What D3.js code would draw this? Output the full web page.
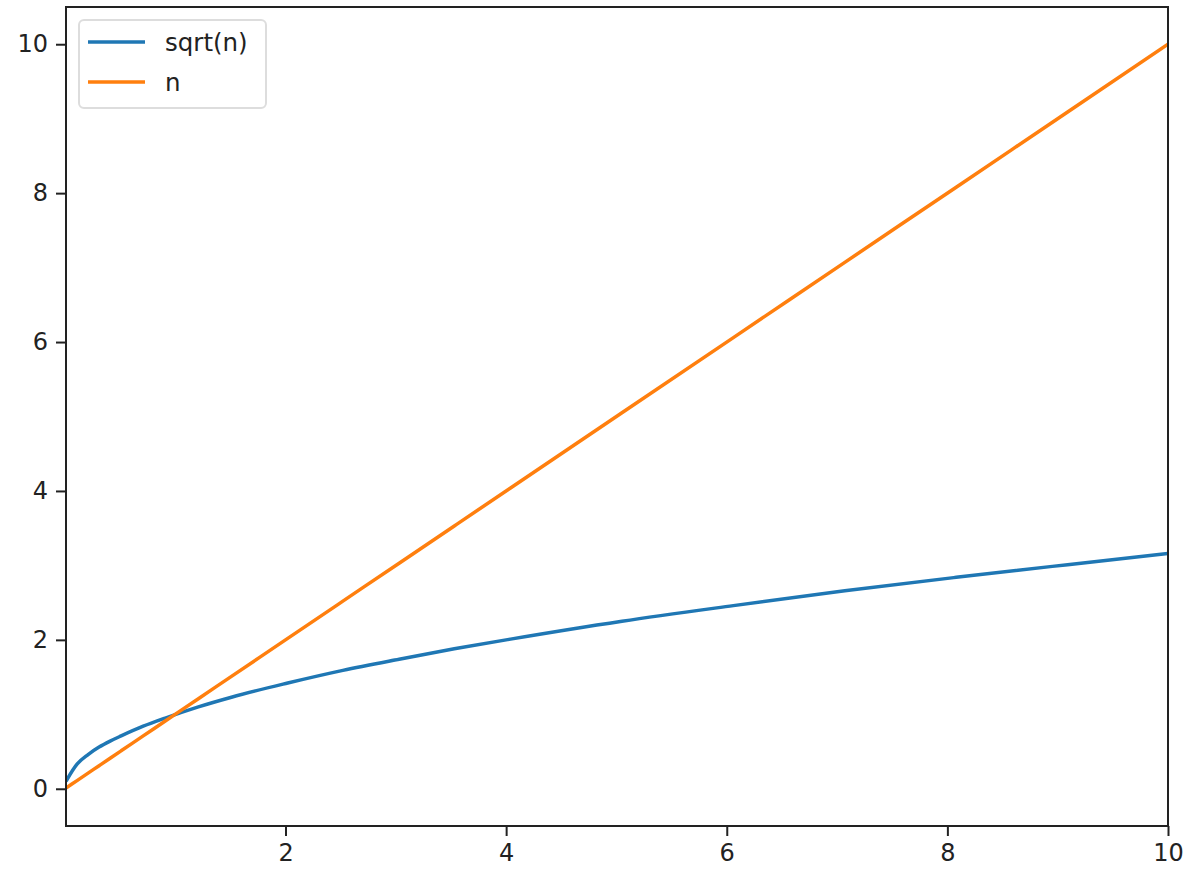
<!DOCTYPE html>
<html>
<head>
<meta charset="utf-8">
<script src="https://cdn.jsdelivr.net/npm/d3@7"></script>
<style>
  body { margin: 0; background: #fff; }
  svg text { font-family: "DejaVu Sans", sans-serif; fill: #222; }
</style>
</head>
<body>
<div id="Chart"></div>
<script>
// values
var nValues    = [0.01, 0.11, 0.21, 0.31, 0.41, 0.51, 0.71, 0.91, 1.21, 1.51, 2.02, 2.52, 3.03, 3.53, 4.04, 5.05, 6.06, 7.07, 8.08, 9.09, 10];
var sqrtValues = [0.10, 0.33, 0.46, 0.56, 0.64, 0.71, 0.84, 0.95, 1.10, 1.23, 1.42, 1.59, 1.74, 1.88, 2.01, 2.25, 2.46, 2.66, 2.84, 3.01, 3.16];
var linValues  = [0.01, 0.11, 0.21, 0.31, 0.41, 0.51, 0.71, 0.91, 1.21, 1.51, 2.02, 2.52, 3.03, 3.53, 4.04, 5.05, 6.06, 7.07, 8.08, 9.09, 10];
var seriesNames = ["sqrt(n)", "n"];
var seriesColors = ["#1f77b4", "#ff7f0e"];
var xTicks = [2, 4, 6, 8, 10];
var yTicks = [0, 2, 4, 6, 8, 10];

var margin = {top: 7, right: 22, bottom: 44, left: 66},
    width = 1190 - margin.left - margin.right,
    height = 870 - margin.top - margin.bottom;

var svg = d3.select("#Chart")
    .append("svg")
    .attr("width", width + margin.left + margin.right)
    .attr("height", height + margin.top + margin.bottom);
var g = svg.append("g")
    .attr("transform", "translate(" + margin.left + "," + margin.top + ")");

var x = d3.scaleLinear().domain([d3.min(nValues), d3.max(nValues)]).range([0, width]);
var y = d3.scaleLinear().domain([-0.5, 10.5]).range([height, 0]);

var series = [sqrtValues, linValues].map(function(vals, i) {
    return {name: seriesNames[i], color: seriesColors[i],
            points: nValues.map(function(n, j) { return [n, vals[j]]; })};
});

var line = d3.line()
    .curve(d3.curveMonotoneX)
    .x(function(d) { return x(d[0]); })
    .y(function(d) { return y(d[1]); });

g.append("clipPath").attr("id", "clip")
  .append("rect").attr("width", width).attr("height", height);

g.selectAll(".series")
  .data(series)
  .enter().append("path")
  .attr("class", "series")
  .attr("clip-path", "url(#clip)")
  .attr("fill", "none")
  .attr("stroke", function(d) { return d.color; })
  .attr("stroke-width", 3.5)
  .attr("d", function(d) { return line(d.points); });

// axes
var xAxis = g.append("g")
  .attr("transform", "translate(0," + height + ")")
  .call(d3.axisBottom(x).tickValues(xTicks).tickSize(10).tickPadding(8).tickFormat(d3.format("d")));
var yAxis = g.append("g")
  .call(d3.axisLeft(y).tickValues(yTicks).tickSize(10).tickPadding(8).tickFormat(d3.format("d")));
[xAxis, yAxis].forEach(function(a) {
  a.select(".domain").remove();
  a.selectAll("line").attr("stroke", "#222").attr("stroke-width", 2);
  a.selectAll("text").style("font-size", "24px").style("fill", "#222")
    .attr("font-family", "DejaVu Sans");
});

// frame
g.append("rect")
  .attr("width", width).attr("height", height)
  .attr("fill", "none").attr("stroke", "#222").attr("stroke-width", 2);

// legend
var legend = g.append("g").attr("transform", "translate(13,13)");
legend.append("rect")
  .attr("width", 187).attr("height", 88).attr("rx", 5)
  .attr("fill", "#fff").attr("fill-opacity", 0.8)
  .attr("stroke", "#ddd").attr("stroke-width", 2);
var item = legend.selectAll(".item")
  .data(series)
  .enter().append("g")
  .attr("transform", function(d, i) { return "translate(0," + (22 + i * 40) + ")"; });
item.append("line")
  .attr("x1", 9).attr("x2", 66)
  .attr("stroke", function(d) { return d.color; })
  .attr("stroke-width", 3.5);
item.append("text")
  .attr("x", 86).attr("dy", "0.35em")
  .style("font-size", "24.5px")
  .text(function(d) { return d.name; });
</script>
</body>
</html>
